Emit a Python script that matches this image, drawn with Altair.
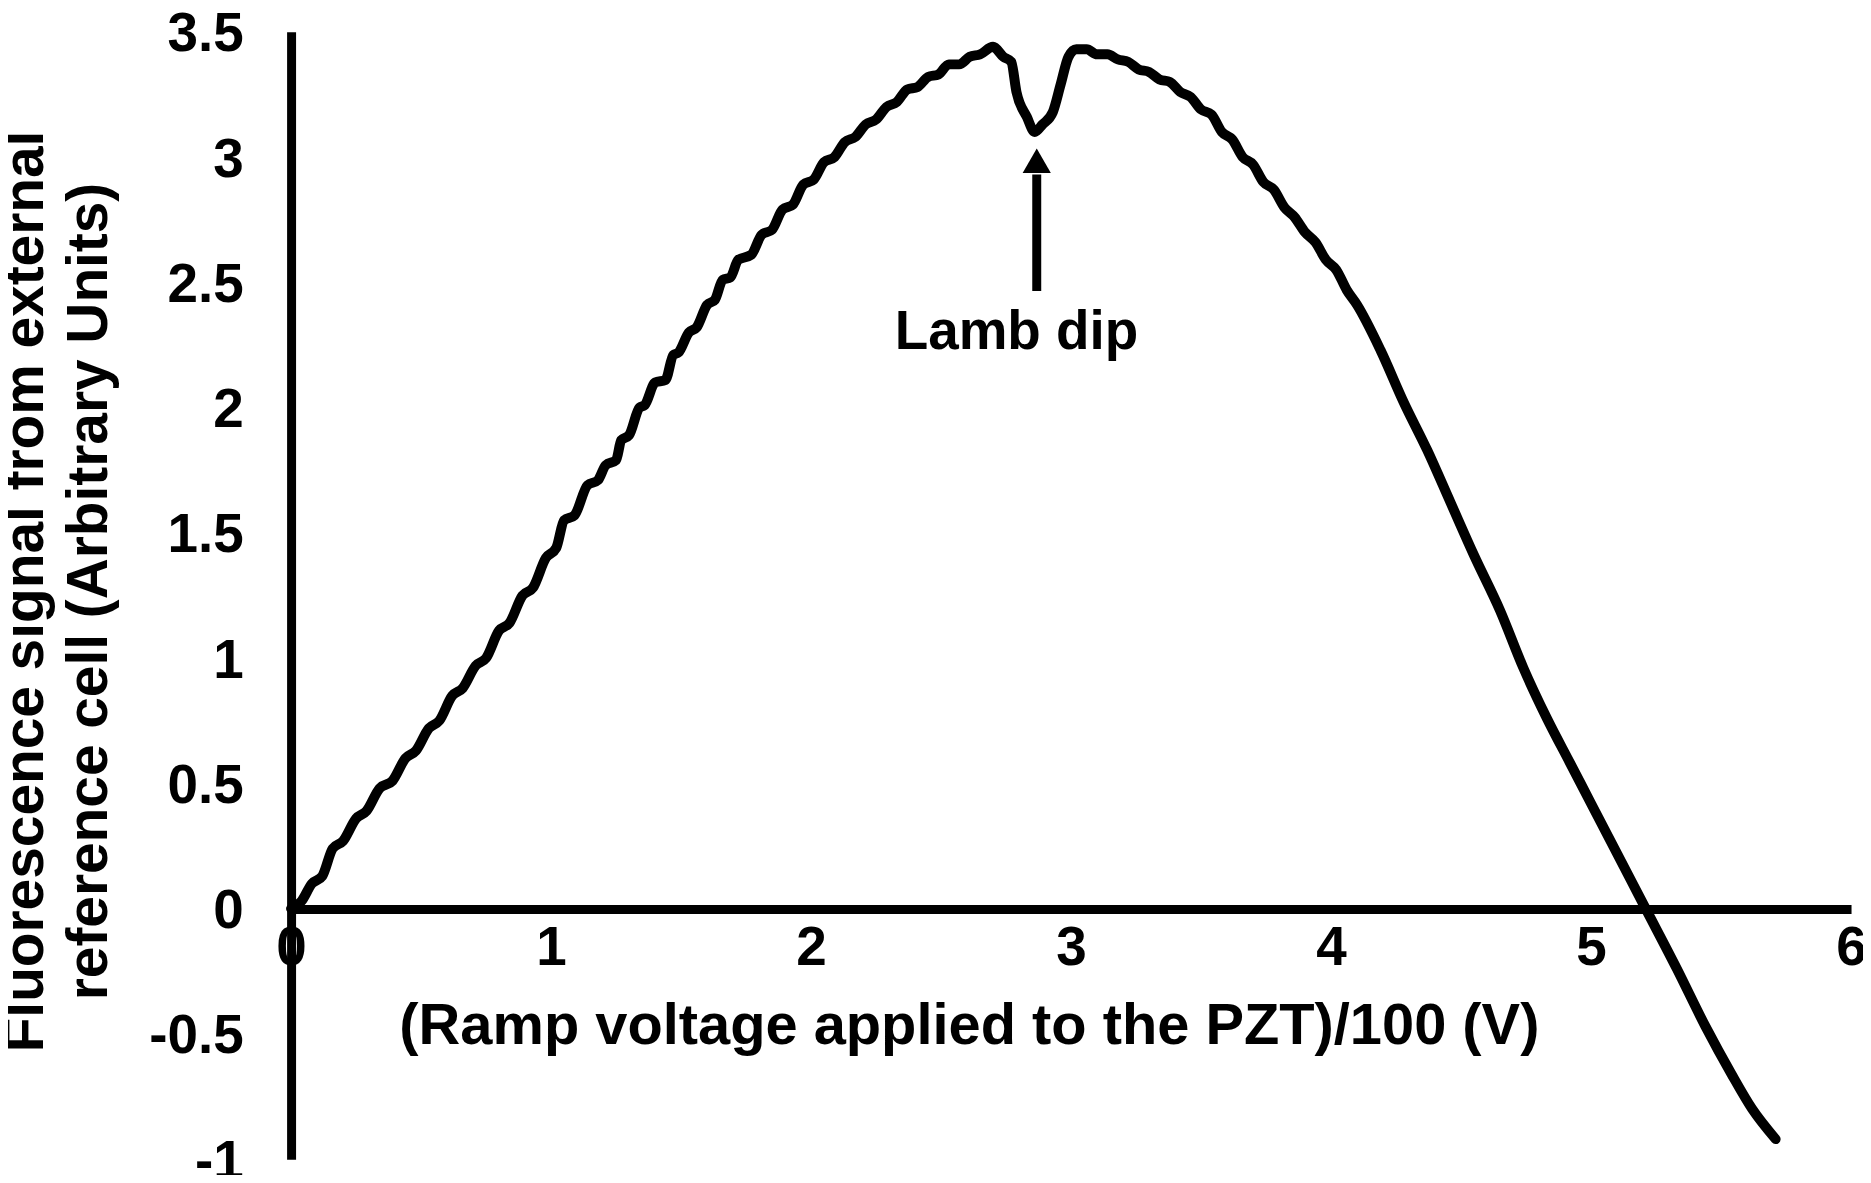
import altair as alt
import pandas as pd

# ---- data ----
ramp_v = [0.00, 0.04, 0.08, 0.12, 0.16, 0.20, 0.25, 0.29, 0.34, 0.39, 0.44, 0.48,
          0.53, 0.57, 0.62, 0.66, 0.71, 0.75, 0.80, 0.84, 0.89, 0.93, 0.98, 1.02,
          1.05, 1.09, 1.14, 1.18, 1.21, 1.25, 1.27, 1.30, 1.34, 1.36, 1.40, 1.44,
          1.47, 1.49, 1.53, 1.56, 1.60, 1.63, 1.66, 1.69, 1.72, 1.77, 1.81, 1.85,
          1.89, 1.93, 1.97, 2.01, 2.05, 2.09, 2.13, 2.17, 2.21, 2.25, 2.29, 2.33,
          2.37, 2.41, 2.45, 2.49, 2.53, 2.57, 2.61, 2.65, 2.70,
          2.74, 2.77, 2.79, 2.83, 2.86, 2.89, 2.93, 2.96, 2.99, 3.02,
          3.06, 3.10, 3.14, 3.18, 3.22, 3.26, 3.30, 3.34, 3.38, 3.42, 3.46, 3.50,
          3.54, 3.58, 3.62, 3.66, 3.70, 3.74, 3.78, 3.82, 3.86, 3.90, 3.94, 3.98,
          4.02, 4.06, 4.10,
          4.19, 4.28, 4.37, 4.46, 4.55, 4.65, 4.74, 4.83, 4.92, 5.00, 5.10, 5.21,
          5.33, 5.44, 5.54, 5.62, 5.71]
signal = [0.00, 0.03, 0.10, 0.13, 0.24, 0.27, 0.36, 0.39, 0.48, 0.51, 0.60, 0.63,
          0.72, 0.75, 0.85, 0.88, 0.97, 1.00, 1.11, 1.14, 1.25, 1.28, 1.40, 1.44,
          1.55, 1.57, 1.69, 1.71, 1.77, 1.79, 1.87, 1.89, 2.00, 2.01, 2.10, 2.11,
          2.21, 2.22, 2.30, 2.32, 2.41, 2.43, 2.51, 2.52, 2.59, 2.61, 2.69, 2.71,
          2.79, 2.81, 2.89, 2.91, 2.98, 3.00, 3.06, 3.08, 3.13, 3.15, 3.20, 3.22,
          3.27, 3.28, 3.32, 3.33, 3.37, 3.37, 3.40, 3.41, 3.44,
          3.40, 3.38, 3.26, 3.16, 3.10, 3.13, 3.18, 3.29, 3.40, 3.43,
          3.43, 3.41, 3.41, 3.39, 3.38, 3.35, 3.34, 3.31, 3.30, 3.26, 3.24, 3.19,
          3.17, 3.10, 3.07, 3.00, 2.97, 2.90, 2.87, 2.80, 2.76, 2.70, 2.66, 2.59,
          2.55, 2.47, 2.41,
          2.23, 2.02, 1.83, 1.62, 1.41, 1.19, 0.96, 0.76, 0.58, 0.42, 0.22, 0.00,
          -0.24, -0.47, -0.66, -0.80, -0.92]

x_ticks = [0, 1, 2, 3, 4, 5, 6]
y_ticks = [-1, -0.5, 0, 0.5, 1, 1.5, 2, 2.5, 3, 3.5]

x_title = "(Ramp voltage applied to the PZT)/100 (V)"
y_title = ["Fluorescence signal from external", "reference cell (Arbitrary Units)"]

annot_text = ["Lamb dip"]
annot_x = [2.79]
annot_y = [2.30]
arrow_x = [2.868]
arrow_bottom = [2.465]
arrow_top = [2.93]
arrow_head_y = [2.985]

FONT = "Liberation Sans"
W, H = 1565, 1131

df = pd.DataFrame({"x": ramp_v, "y": signal})
df_text = pd.DataFrame({"x": annot_x, "y": annot_y, "t": annot_text})
df_shaft = pd.DataFrame({"x": arrow_x, "y": arrow_bottom, "y2": arrow_top})
df_head = pd.DataFrame({"x": arrow_x, "y": arrow_head_y})

xscale = alt.Scale(domain=[0, 6], nice=False, zero=False)
yscale = alt.Scale(domain=[-1, 3.5], nice=False, zero=False)

x_axis = alt.Axis(
    values=x_ticks, offset=-251, grid=False, ticks=False, tickSize=0,
    domainColor="black", domainWidth=9,
    labelFont=FONT, labelFontSize=55, labelFontWeight="bold", labelColor="black",
    labelPadding=13, labelFlush=False, labelOverlap=False, labelBound=False,
    labelExpr="datum.value + ''",
    title=x_title, titleFont=FONT, titleFontSize=58, titleFontWeight="bold",
    titleColor="black", titleX=680, titleY=118, titleAlign="center",
    titleBaseline="middle", titleAngle=0,
)
y_axis = alt.Axis(
    values=y_ticks, grid=False, ticks=False, tickSize=0,
    domainColor="black", domainWidth=9,
    labelFont=FONT, labelFontSize=55, labelFontWeight="bold", labelColor="black",
    labelPadding=48, labelFlush=False, labelOverlap=False, labelBound=False,
    labelOffset=2, labelExpr="datum.value + ''",
    title=y_title, titleFont=FONT, titleFontSize=57, titleFontWeight="bold",
    titleColor="black", titleX=-266, titleY=561, titleAngle=270,
    titleAlign="center", titleBaseline="middle", titleLineHeight=64,
)

x_enc = alt.X("x:Q", scale=xscale, axis=x_axis)
y_enc = alt.Y("y:Q", scale=yscale, axis=y_axis)

line = alt.Chart(df).mark_line(
    color="black", strokeWidth=10, strokeJoin="round", strokeCap="round",
    interpolate="monotone"
).encode(x=x_enc, y=y_enc)

shaft = alt.Chart(df_shaft).mark_rule(color="black", strokeWidth=9).encode(
    x=x_enc, y=y_enc, y2="y2:Q"
)

head = alt.Chart(df_head).mark_point(
    shape="triangle-up", filled=True, color="black", opacity=1, size=800
).encode(x=x_enc, y=y_enc)

label = alt.Chart(df_text).mark_text(
    font=FONT, fontSize=55, fontWeight="bold", color="black",
    align="center", baseline="middle"
).encode(x=x_enc, y=y_enc, text="t:N")

chart = alt.layer(line, shaft, head, label).properties(
    width=W, height=H,
    padding={"left": 284, "top": 22, "right": 12, "bottom": 14},
    autosize=alt.AutoSizeParams(type="none"),
    background="white",
).configure_view(stroke=None)

chart.save("out.html", embed_options={"renderer": "svg", "actions": False})
